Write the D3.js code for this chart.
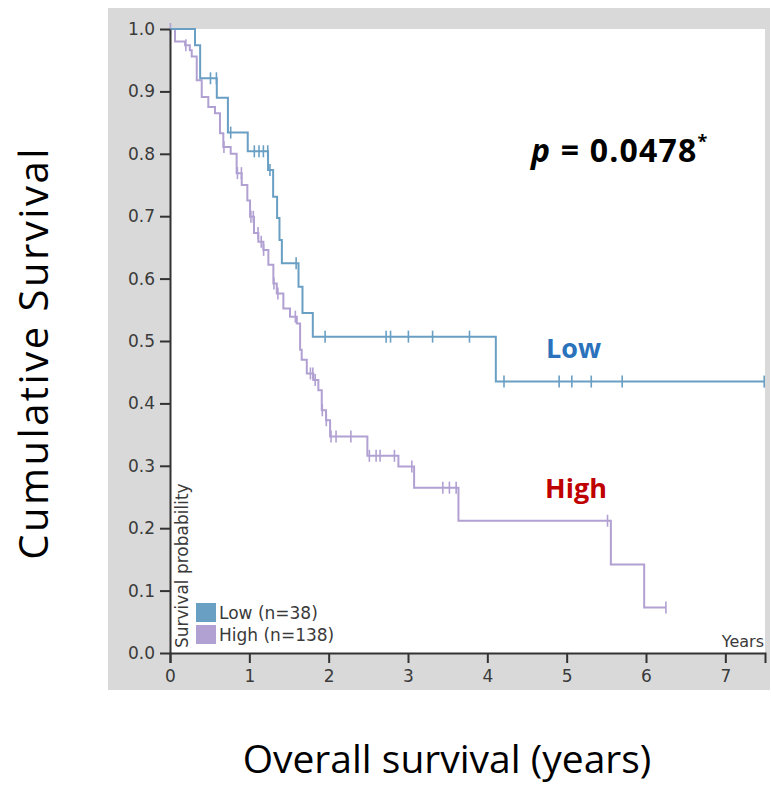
<!DOCTYPE html>
<html>
<head>
<meta charset="utf-8">
<script src="https://cdn.jsdelivr.net/npm/d3@7"></script>
<style>
  body { margin: 0; background: #fff; }
</style>
</head>
<body>
<div id="chart"></div>
<script>
// Kaplan-Meier steps: time of drop (years) and survival after the drop.
const lowTimes = [0.315, 0.38, 0.59, 0.73, 0.98, 1.236, 1.30, 1.35, 1.38, 1.41, 1.62, 1.67, 1.80, 4.107];
const lowSurv = [0.974, 0.921, 0.89, 0.834, 0.804, 0.774, 0.731, 0.697, 0.662, 0.6245, 0.587, 0.545, 0.507, 0.435];
const lowCensor = [0.51, 0.585, 0.765, 1.063, 1.122, 1.177, 1.232, 1.26, 1.59, 1.955, 2.724, 2.78, 3.005, 3.31, 3.775,
  4.21, 4.905, 5.065, 5.31, 5.70, 7.49];
const lowEnd = 7.49;

const highTimes = [0.063, 0.19, 0.25, 0.274, 0.337, 0.40, 0.483, 0.567, 0.63, 0.672, 0.765, 0.84, 0.904, 0.975,
  1.009, 1.059, 1.114, 1.177, 1.24, 1.303, 1.346, 1.429, 1.513, 1.598, 1.64, 1.66, 1.724, 1.807, 1.87, 1.913,
  1.967, 2.018, 2.488, 2.879, 3.077, 3.636, 5.557, 5.977];
const highSurv = [0.980, 0.974, 0.966, 0.956, 0.918, 0.891, 0.875, 0.865, 0.833, 0.811, 0.80, 0.769, 0.75, 0.725,
  0.699, 0.673, 0.659, 0.646, 0.622, 0.592, 0.576, 0.552, 0.539, 0.528, 0.486, 0.470, 0.448, 0.4375, 0.421, 0.389,
  0.373, 0.347, 0.316, 0.299, 0.265, 0.212, 0.142, 0.073];
const highCensor = [0.005, 0.2, 0.68, 0.85, 0.9, 1.02, 1.05, 1.11, 1.15, 1.18, 1.31, 1.36, 1.58, 1.77, 1.80, 1.83,
  1.92, 1.97, 2.03, 2.093, 2.28, 2.513, 2.598, 2.648, 2.829, 3.048, 3.439, 3.522, 3.607, 5.515, 6.251];
const highEnd = 6.251;

const xTicks = [0, 1, 2, 3, 4, 5, 6, 7];
const yTicks = [0, 0.1, 0.2, 0.3, 0.4, 0.5, 0.6, 0.7, 0.8, 0.9, 1.0];
const legendLabels = ['Low (n=38)', 'High (n=138)'];

const W = 771, H = 786;
const lowColor = '#6a9fc4', highColor = '#b1a0d2';
const small = '"DejaVu Sans", Verdana, sans-serif';
const big = '"Open Sans", "Noto Sans", sans-serif';

const svg = d3.select('#chart').append('svg')
  .attr('width', W)
  .attr('height', H);

// grey frame and white plotting area
svg.append('rect')
  .attr('x', 108).attr('y', 8)
  .attr('width', 662).attr('height', 682)
  .attr('fill', '#d9d9d9');

const x = d3.scaleLinear().domain([0, 7.5]).range([170, 765]);
const y = d3.scaleLinear().domain([0, 1]).range([653, 29]);

svg.append('rect')
  .attr('x', x(0)).attr('y', y(1))
  .attr('width', x(7.5) - x(0)).attr('height', y(0) - y(1))
  .attr('fill', '#fff');

function survAt(times, surv, t) {
  let s = 1;
  times.forEach((tt, i) => { if (tt <= t) s = surv[i]; });
  return s;
}

function drawCurve(times, surv, censor, end, color) {
  const pts = [[0, 1]].concat(times.map((t, i) => [t, surv[i]]));
  pts.push([end, surv[surv.length - 1]]);

  svg.append('path')
    .datum(pts)
    .attr('fill', 'none')
    .attr('stroke', color)
    .attr('stroke-width', 2)
    .attr('d', d3.line()
      .x(d => x(d[0]))
      .y(d => y(d[1]))
      .curve(d3.curveStepAfter));

  svg.selectAll(null)
    .data(censor)
    .enter()
    .append('line')
      .attr('x1', d => x(d))
      .attr('x2', d => x(d))
      .attr('y1', d => y(survAt(times, surv, d)) - 6)
      .attr('y2', d => y(survAt(times, surv, d)) + 6)
      .attr('stroke', color)
      .attr('stroke-width', 1.6);
}

drawCurve(highTimes, highSurv, highCensor, highEnd, highColor);
drawCurve(lowTimes, lowSurv, lowCensor, lowEnd, lowColor);

// axes
const xAxis = d3.axisBottom(x).tickValues(xTicks).tickSize(10).tickSizeOuter(10).tickFormat(d3.format('d'));
const yAxis = d3.axisLeft(y).tickValues(yTicks).tickSize(10).tickSizeOuter(0).tickFormat(d3.format('.1f'));

const gx = svg.append('g')
  .attr('transform', `translate(0, ${y(0)})`)
  .call(xAxis);
const gy = svg.append('g')
  .attr('transform', `translate(${x(0)}, 0)`)
  .call(yAxis);

[gx, gy].forEach(g => {
  g.select('.domain').attr('stroke', '#333').attr('stroke-width', 2);
  g.selectAll('.tick line').attr('stroke', '#333').attr('stroke-width', 2);
  g.selectAll('.tick text')
    .attr('font-family', small)
    .attr('font-size', '17px')
    .attr('fill', '#3a3a3a');
});
gx.selectAll('.tick text').attr('dy', '0.95em');
gy.selectAll('.tick text').attr('x', -15);

svg.append('text')
  .attr('x', 764).attr('y', 647)
  .attr('text-anchor', 'end')
  .attr('font-family', small)
  .attr('font-size', '16px')
  .attr('fill', '#3a3a3a')
  .text('Years');

svg.append('text')
  .attr('transform', 'translate(188, 648) rotate(-90)')
  .attr('font-family', small)
  .attr('font-size', '17px')
  .attr('fill', '#3a3a3a')
  .text('Survival probability');

// legend
const legend = svg.append('g').attr('transform', 'translate(196, 603)');
legend.selectAll('rect')
  .data(legendLabels)
  .enter()
  .append('rect')
    .attr('x', 0)
    .attr('y', (d, i) => i * 22)
    .attr('width', 20)
    .attr('height', 19)
    .attr('fill', (d, i) => i === 0 ? lowColor : highColor);
legend.selectAll('text')
  .data(legendLabels)
  .enter()
  .append('text')
    .attr('x', 23)
    .attr('y', (d, i) => i * 22 + 16)
    .attr('font-family', small)
    .attr('font-size', '17px')
    .attr('fill', '#3a3a3a')
    .text(d => d);

// annotations
svg.append('text')
  .attr('transform', 'translate(48, 353) rotate(-90)')
  .attr('text-anchor', 'middle')
  .attr('font-family', big)
  .attr('font-size', '40px')
  .attr('letter-spacing', '2.5px')
  .attr('fill', '#000')
  .text('Cumulative Survival');

svg.append('text')
  .attr('x', 447).attr('y', 773)
  .attr('text-anchor', 'middle')
  .attr('font-family', big)
  .attr('font-size', '39px')
  .attr('fill', '#000')
  .text('Overall survival (years)');

const pText = svg.append('text')
  .attr('x', 531).attr('y', 162)
  .attr('font-family', big)
  .attr('font-size', '32px')
  .attr('font-weight', 'bold')
  .attr('letter-spacing', '1.2px')
  .attr('fill', '#000');
pText.append('tspan').attr('font-style', 'italic').text('p');
pText.append('tspan').text(' = 0.0478');
pText.append('tspan').attr('font-size', '18px').attr('dy', -14).text('*');

svg.append('text')
  .attr('x', 546).attr('y', 358)
  .attr('font-family', big)
  .attr('font-size', '27px')
  .attr('font-weight', 'bold')
  .attr('fill', '#2a72bb')
  .text('Low');

svg.append('text')
  .attr('x', 545).attr('y', 498)
  .attr('font-family', big)
  .attr('font-size', '27px')
  .attr('font-weight', 'bold')
  .attr('fill', '#c00000')
  .text('High');
</script>
</body>
</html>
